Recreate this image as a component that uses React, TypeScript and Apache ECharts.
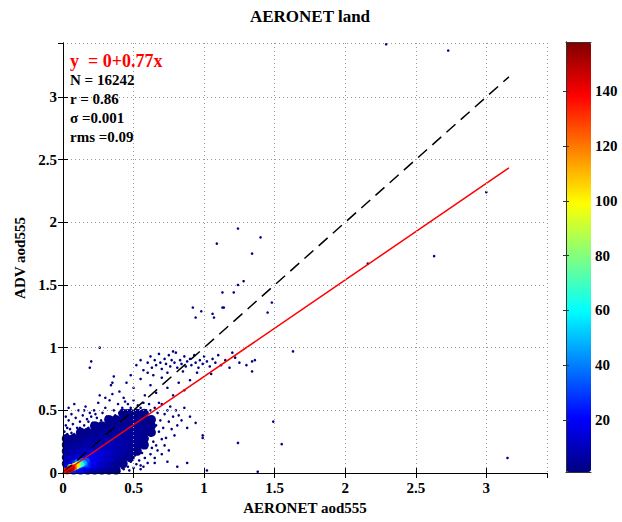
import React, { useEffect, useRef } from 'react';
import * as echarts from 'echarts';

// ---- data ----
const titleText = 'AERONET land';
const xAxisName = 'AERONET aod555';
const yAxisName = 'ADV aod555';
const fitLabel = 'y  = 0+0.77x';
const statsLines = ['N = 16242', 'r = 0.86', 'σ =0.001', 'rms =0.09'];
const fitSlope = 0.77;
const fitIntercept = 0;
const lineEndX = 3.16;
const axisMax = 3.43;
const densityMin = 1;
const densityMax = 158;
const colorbarTicks = [20, 40, 60, 80, 100, 120, 140];
const sparseDensity = 2;

// binned dense cloud: [x, y, density]
const blobCells: number[][] = [
  [0.025, 0.075, 12], [0.025, 0.125, 9], [0.025, 0.175, 6], [0.025, 0.225, 4], [0.025, 0.275, 3],
  [0.075, 0.025, 25], [0.075, 0.075, 20], [0.075, 0.125, 12], [0.075, 0.175, 8], [0.075, 0.225, 5], [0.075, 0.275, 3],
  [0.125, 0.025, 22], [0.125, 0.075, 30], [0.125, 0.125, 18], [0.125, 0.175, 10], [0.125, 0.225, 6], [0.125, 0.275, 4], [0.125, 0.325, 3],
  [0.175, 0.025, 15], [0.175, 0.075, 25], [0.175, 0.125, 22], [0.175, 0.175, 12], [0.175, 0.225, 8], [0.175, 0.275, 5], [0.175, 0.325, 3],
  [0.225, 0.025, 10], [0.225, 0.075, 18], [0.225, 0.125, 20], [0.225, 0.175, 14], [0.225, 0.225, 9], [0.225, 0.275, 6], [0.225, 0.325, 4], [0.225, 0.375, 3],
  [0.275, 0.025, 7], [0.275, 0.075, 12], [0.275, 0.125, 15], [0.275, 0.175, 14], [0.275, 0.225, 10], [0.275, 0.275, 7], [0.275, 0.325, 5], [0.275, 0.375, 3],
  [0.325, 0.025, 5], [0.325, 0.075, 8], [0.325, 0.125, 11], [0.325, 0.175, 12], [0.325, 0.225, 10], [0.325, 0.275, 8], [0.325, 0.325, 6], [0.325, 0.375, 4], [0.325, 0.425, 3],
  [0.375, 0.025, 3], [0.375, 0.075, 5], [0.375, 0.125, 8], [0.375, 0.175, 9], [0.375, 0.225, 9], [0.375, 0.275, 8], [0.375, 0.325, 6], [0.375, 0.375, 5], [0.375, 0.425, 3],
  [0.425, 0.075, 3], [0.425, 0.125, 5], [0.425, 0.175, 7], [0.425, 0.225, 8], [0.425, 0.275, 7], [0.425, 0.325, 6], [0.425, 0.375, 5], [0.425, 0.425, 4], [0.425, 0.475, 3],
  [0.475, 0.125, 3], [0.475, 0.175, 5], [0.475, 0.225, 6], [0.475, 0.275, 6], [0.475, 0.325, 6], [0.475, 0.375, 5], [0.475, 0.425, 4], [0.475, 0.475, 3],
  [0.525, 0.175, 3], [0.525, 0.225, 4], [0.525, 0.275, 5], [0.525, 0.325, 5], [0.525, 0.375, 5], [0.525, 0.425, 4], [0.525, 0.475, 3],
  [0.575, 0.225, 3], [0.575, 0.275, 3], [0.575, 0.325, 4], [0.575, 0.375, 4], [0.575, 0.425, 3], [0.575, 0.475, 3],
  [0.625, 0.325, 3], [0.625, 0.375, 3], [0.625, 0.425, 3],
];

// isolated points around the cloud: [x, y]
const cloudPoints: number[][] = [
  [0.01, 0.33], [0.02, 0.38], [0.03, 0.31], [0.04, 0.42], [0.05, 0.35], [0.06, 0.47], [0.07, 0.39], [0.08, 0.31],
  [0.09, 0.44], [0.1, 0.36], [0.11, 0.5], [0.12, 0.41], [0.13, 0.33], [0.14, 0.46], [0.15, 0.38], [0.16, 0.53],
  [0.17, 0.43], [0.18, 0.36], [0.19, 0.48], [0.02, 0.45], [0.04, 0.52], [0.08, 0.55], [0.12, 0.36], [0.15, 0.5],
  [0.18, 0.41], [0.01, 0.28], [0.06, 0.32], [0.1, 0.3], [0.03, 0.36], [0.2, 0.45],
  [0.21, 0.4], [0.22, 0.5], [0.24, 0.44], [0.25, 0.56], [0.27, 0.42], [0.28, 0.48], [0.3, 0.52], [0.31, 0.45],
  [0.33, 0.58], [0.34, 0.43], [0.36, 0.5], [0.37, 0.46], [0.39, 0.55], [0.4, 0.48], [0.42, 0.52], [0.43, 0.6],
  [0.45, 0.5], [0.46, 0.55], [0.48, 0.52], [0.5, 0.58], [0.51, 0.5], [0.53, 0.54], [0.55, 0.52], [0.57, 0.56],
  [0.59, 0.5], [0.26, 0.62], [0.35, 0.63], [0.44, 0.57], [0.23, 0.47], [0.38, 0.42],
  [0.61, 0.55], [0.62, 0.3], [0.63, 0.45], [0.64, 0.25], [0.65, 0.52], [0.66, 0.38], [0.67, 0.48], [0.68, 0.33],
  [0.69, 0.42], [0.7, 0.55], [0.71, 0.36], [0.72, 0.47], [0.73, 0.28], [0.74, 0.5], [0.75, 0.41], [0.76, 0.53],
  [0.77, 0.35], [0.78, 0.45], [0.8, 0.5], [0.81, 0.38], [0.82, 0.46], [0.84, 0.42], [0.86, 0.52], [0.88, 0.36],
  [0.66, 0.22], [0.7, 0.27], [0.79, 0.3], [0.62, 0.5], [0.68, 0.56], [0.9, 0.45], [0.94, 0.4], [0.99, 0.3],
  [0.36, 0.02], [0.38, 0.05], [0.4, 0.01], [0.41, 0.08], [0.43, 0.03], [0.44, 0.12], [0.46, 0.05], [0.47, 0.02],
  [0.48, 0.09], [0.5, 0.04], [0.51, 0.14], [0.52, 0.07], [0.54, 0.1], [0.55, 0.03], [0.56, 0.16], [0.58, 0.12],
  [0.59, 0.2], [0.6, 0.08], [0.62, 0.15], [0.63, 0.2], [0.65, 0.12], [0.67, 0.18], [0.7, 0.15], [0.72, 0.22],
  [0.75, 0.18], [0.45, 0.15], [0.53, 0.17], [0.57, 0.05], [0.39, 0.1], [0.42, 0.04],
  [0.3, 0.6], [0.34, 0.7], [0.4, 0.65], [0.45, 0.72], [0.5, 0.68], [0.55, 0.75], [0.58, 0.62], [0.62, 0.7],
  [0.66, 0.64], [0.7, 0.76], [0.74, 0.68], [0.78, 0.62], [0.82, 0.72], [0.86, 0.66], [0.9, 0.74], [0.48, 0.78],
  [0.6, 0.8], [0.36, 0.77],
];

// the band of points near y ~ 0.9
const bandPoints: number[][] = [
  [0.52, 0.86], [0.55, 0.9], [0.57, 0.82], [0.6, 0.88], [0.62, 0.93], [0.63, 0.84], [0.65, 0.9], [0.66, 0.86],
  [0.68, 0.95], [0.69, 0.88], [0.7, 0.83], [0.72, 0.91], [0.73, 0.87], [0.75, 0.94], [0.76, 0.85], [0.77, 0.9],
  [0.79, 0.88], [0.8, 0.96], [0.81, 0.84], [0.83, 0.9], [0.84, 0.87], [0.86, 0.93], [0.87, 0.85], [0.88, 0.89],
  [0.9, 0.91], [0.91, 0.86], [0.93, 0.94], [0.94, 0.88], [0.96, 0.84], [0.97, 0.9], [0.99, 0.87], [1.0, 0.93],
  [1.02, 0.89], [1.04, 0.85], [1.06, 0.91], [1.08, 0.88], [1.1, 0.94], [1.12, 0.86], [1.15, 0.9], [1.18, 0.84],
  [1.22, 0.92], [1.25, 0.88], [1.3, 0.86], [1.36, 0.9], [0.74, 0.8], [0.85, 0.81], [0.95, 0.8], [1.05, 0.79],
  [0.78, 0.97], [0.64, 0.78],
];

// far outliers
const outlierPoints: number[][] = [
  [0.26, 1.0], [0.2, 0.89], [0.19, 0.84], [0.35, 0.72], [0.92, 1.32], [0.98, 1.29], [1.13, 1.32], [1.06, 1.27],
  [1.07, 1.24], [0.94, 1.24], [1.14, 1.32], [1.45, 1.28], [1.48, 1.36], [1.13, 1.44], [1.21, 1.44], [1.24, 1.5],
  [1.28, 1.53], [1.09, 1.83], [1.24, 1.95], [1.4, 1.88], [1.34, 1.75], [1.49, 0.41], [1.55, 0.23], [1.24, 0.24],
  [0.99, 0.28], [1.02, 0.02], [1.38, 0.01], [1.63, 0.97], [1.34, 0.89], [1.34, 0.81], [1.2, 0.96], [2.16, 1.67],
  [2.63, 1.73], [3.0, 2.24], [2.29, 3.42], [2.73, 3.37], [3.15, 0.12], [0.55, 0.06], [0.65, 0.08], [0.81, 0.05],
  [0.88, 0.08], [0.74, 0.09],
];

// hot core near the origin: [x, y, density]
const corePoints: number[][] = [
  [0.18, 0.1, 22], [0.19, 0.11, 22], [0.2, 0.1, 20], [0.18, 0.08, 24], [0.15, 0.11, 24], [0.11, 0.1, 25],
  [0.08, 0.08, 26], [0.2, 0.12, 20], [0.22, 0.12, 18], [0.21, 0.14, 18], [0.16, 0.13, 22],
  [0.15, 0.09, 35], [0.16, 0.09, 35], [0.17, 0.1, 32], [0.16, 0.07, 35], [0.13, 0.1, 35], [0.1, 0.09, 38],
  [0.13, 0.08, 50], [0.14, 0.08, 50], [0.15, 0.08, 48], [0.12, 0.06, 52], [0.14, 0.07, 50],
  [0.12, 0.07, 65], [0.12, 0.08, 62], [0.13, 0.07, 66], [0.1, 0.05, 68], [0.05, 0.05, 64],
  [0.1, 0.07, 85], [0.11, 0.06, 86], [0.11, 0.07, 82], [0.08, 0.06, 88],
  [0.09, 0.05, 100], [0.09, 0.06, 98], [0.1, 0.06, 102], [0.06, 0.05, 104],
  [0.07, 0.05, 120], [0.08, 0.05, 118], [0.03, 0.01, 122], [0.08, 0.04, 120],
  [0.02, 0.02, 135], [0.04, 0.02, 136], [0.05, 0.04, 134], [0.07, 0.04, 138], [0.06, 0.03, 140],
  [0.03, 0.02, 150], [0.04, 0.03, 152], [0.05, 0.03, 155], [0.06, 0.04, 150],
];

const jet = ['#000080', '#0000FF', '#0080FF', '#00FFFF', '#80FF80', '#FFFF00', '#FF8000', '#FF0000', '#800000'];
const FONT = '"Liberation Serif", "Times New Roman", serif';

export default function App() {
  const ref = useRef<HTMLDivElement>(null);
  useEffect(() => {
    if (!ref.current) return;
    document.body.style.margin = '0';
    const chart = echarts.init(ref.current, null, { renderer: 'svg' });
    const sparse = [...cloudPoints, ...bandPoints, ...outlierPoints].map((p) => [p[0], p[1], sparseDensity]);
    const labelStyle = { fontFamily: FONT, fontWeight: 'bold' as const, fontSize: 15, color: '#000' };
    const mainAxisCommon = {
      type: 'value' as const,
      min: 0,
      max: axisMax,
      interval: 0.5,
      gridIndex: 0,
      axisLine: { show: true, lineStyle: { color: '#000', width: 1 } },
      axisTick: { show: true, inside: true, length: 5, lineStyle: { color: '#000' } },
      z: 10,
    };
    chart.setOption({
      animation: false,
      backgroundColor: '#fff',
      title: {
        text: titleText,
        left: 305,
        top: 3,
        textAlign: 'center',
        textStyle: { fontFamily: FONT, fontWeight: 'bold', fontSize: 17, color: '#000' },
      },
      grid: [
        { left: 63, top: 43, width: 484, height: 430, show: false },
        { left: 566, top: 42, width: 25, height: 430, show: false },
      ],
      xAxis: [
        {
          ...mainAxisCommon,
          position: 'bottom',
          name: xAxisName,
          nameLocation: 'middle',
          nameGap: 27,
          nameTextStyle: { fontFamily: FONT, fontWeight: 'bold', fontSize: 15, color: '#000' },
          axisLabel: { ...labelStyle, margin: 7, showMaxLabel: false },
          splitLine: { show: true, lineStyle: { color: '#999', type: [1, 3], width: 1 } },
        },
        {
          ...mainAxisCommon,
          position: 'top',
          axisLabel: { show: false },
          splitLine: { show: false },
        },
        {
          type: 'value', gridIndex: 1, min: 0, max: 1, position: 'bottom',
          axisLine: { show: true, lineStyle: { color: '#333' } }, axisTick: { show: false },
          axisLabel: { show: false }, splitLine: { show: false }, z: 10,
        },
        {
          type: 'value', gridIndex: 1, min: 0, max: 1, position: 'top',
          axisLine: { show: true, lineStyle: { color: '#333' } }, axisTick: { show: false },
          axisLabel: { show: false }, splitLine: { show: false }, z: 10,
        },
      ],
      yAxis: [
        {
          ...mainAxisCommon,
          position: 'left',
          name: yAxisName,
          nameLocation: 'middle',
          nameGap: 35,
          nameTextStyle: { fontFamily: FONT, fontWeight: 'bold', fontSize: 15, color: '#000' },
          axisLabel: { ...labelStyle, margin: 6, showMaxLabel: false },
          splitLine: { show: true, lineStyle: { color: '#999', type: [1, 3], width: 1 } },
        },
        {
          ...mainAxisCommon,
          position: 'right',
          axisLabel: { show: false },
          splitLine: { show: false },
        },
        {
          type: 'value', gridIndex: 1, min: densityMin, max: densityMax, position: 'right',
          axisLine: { show: true, lineStyle: { color: '#333' } },
          axisTick: { show: true, inside: true, length: 3, customValues: colorbarTicks, lineStyle: { color: '#333' } },
          axisLabel: { ...labelStyle, margin: 4, customValues: colorbarTicks },
          splitLine: { show: false }, z: 10,
        },
        {
          type: 'value', gridIndex: 1, min: densityMin, max: densityMax, position: 'left',
          axisLine: { show: true, lineStyle: { color: '#333' } },
          axisTick: { show: true, inside: true, length: 3, customValues: colorbarTicks, lineStyle: { color: '#333' } },
          axisLabel: { show: false },
          splitLine: { show: false }, z: 10,
        },
      ],
      visualMap: {
        type: 'continuous',
        min: densityMin,
        max: densityMax,
        dimension: 2,
        seriesIndex: [0, 1, 2],
        orient: 'vertical',
        left: 566,
        top: 42,
        itemWidth: 25,
        itemHeight: 430,
        padding: 0,
        calculable: false,
        hoverLink: false,
        realtime: false,
        inRange: { color: jet },
      },
      graphic: [
        {
          type: 'text', x: 70, y: 61, z: 20,
          style: { text: fitLabel, fill: '#ff0000', font: `bold 18px ${FONT}`, verticalAlign: 'middle' },
        },
        ...statsLines.map((t, i) => ({
          type: 'text', x: 70, y: 80 + i * 19, z: 20,
          style: { text: t, fill: '#000', font: `bold 15px ${FONT}`, verticalAlign: 'middle' },
        })),
      ],
      series: [
        {
          type: 'scatter', xAxisIndex: 0, yAxisIndex: 0, data: blobCells,
          symbol: 'circle', symbolSize: 9.5, silent: true, itemStyle: { opacity: 1 },
        },
        {
          type: 'scatter', xAxisIndex: 0, yAxisIndex: 0, data: sparse,
          symbol: 'circle', symbolSize: 2.6, silent: true, itemStyle: { opacity: 1 },
        },
        {
          type: 'scatter', xAxisIndex: 0, yAxisIndex: 0, data: corePoints,
          symbol: 'circle', symbolSize: 5.5, silent: true, itemStyle: { opacity: 1 },
        },
        {
          type: 'line', xAxisIndex: 0, yAxisIndex: 0,
          data: [[0, 0], [lineEndX, lineEndX]],
          showSymbol: false, silent: true, z: 5,
          lineStyle: { color: '#000', width: 1.5, type: [12, 7] },
        },
        {
          type: 'line', xAxisIndex: 0, yAxisIndex: 0,
          data: [[0, fitIntercept], [lineEndX, fitIntercept + fitSlope * lineEndX]],
          showSymbol: false, silent: true, z: 6,
          lineStyle: { color: '#ff0000', width: 1.5 },
        },
      ],
    });
    return () => chart.dispose();
  }, []);
  return <div ref={ref} style={{ width: 622, height: 522 }} />;
}
